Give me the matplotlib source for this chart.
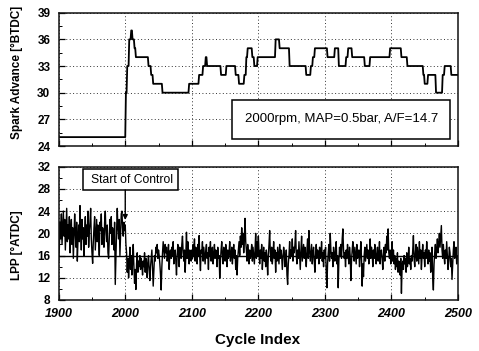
import numpy as np
import matplotlib
matplotlib.use("Agg")
import matplotlib.pyplot as plt
from matplotlib.patches import Rectangle
from matplotlib.font_manager import FontProperties

plt.rcParams['font.family'] = ['Liberation Sans', 'DejaVu Sans']

# ---------------- data ----------------
cycle_start, cycle_end = 1900, 2500

# spark advance: step changes (cycle where value starts, value in deg BTDC)
sa_step_cycles = [1900, 2001, 2003, 2006, 2009, 2011, 2014, 2016, 2035, 2039, 2042, 2056,
                  2096, 2111, 2117, 2121, 2123, 2144, 2152, 2166, 2171, 2179, 2182, 2184,
                  2191, 2194, 2199, 2226, 2232, 2247, 2272, 2279, 2282, 2285, 2304, 2315,
                  2321, 2332, 2335, 2341, 2360, 2368, 2398, 2415, 2424, 2448, 2450, 2455,
                  2467, 2477, 2480, 2490]
sa_step_values = [25, 30, 33, 36, 37, 36, 35, 34, 33, 32, 31, 30,
                  31, 32, 33, 34, 33, 32, 33, 32, 31, 32, 34, 35,
                  34, 33, 34, 36, 35, 33, 32, 33, 34, 35, 34, 35,
                  33, 34, 35, 34, 33, 34, 35, 34, 33, 32, 31, 32,
                  30, 32, 33, 32]

lpp_1900 = [15.0, 17.5, 22.0, 19.0, 23.5, 18.0, 21.0, 24.0, 19.5, 22.5,
            17.0, 20.5, 24.5, 18.5, 21.5, 19.0, 23.0, 16.5, 20.0, 22.5,
            18.0, 21.0, 15.5, 19.5, 23.5, 20.0, 17.5, 22.0, 15.0, 19.0,
            21.5, 18.5, 25.0, 20.5, 17.0, 22.5, 19.0, 21.0, 16.0, 20.0,
            23.0, 18.0, 21.5, 19.5, 24.0, 17.5, 20.5, 22.0, 24.5, 19.0,
            16.5, 14.6, 18.5, 21.0, 23.0, 17.0, 20.0, 22.5, 18.5, 21.5,
            19.0, 16.0, 22.0, 20.5, 23.5, 18.0, 21.0, 19.5, 17.5, 22.0,
            24.0, 20.0, 18.5, 21.5, 16.5, 15.5, 19.0, 22.5, 20.0, 23.0,
            18.0, 21.0, 19.5, 17.0, 22.0, 10.8, 16.0, 20.5, 24.5, 21.0,
            19.0, 22.5, 16.0, 20.0, 23.5, 24.0, 21.0, 19.5, 22.0, 20.5]
lpp_2000 = [21.5, 18.0, 16.5, 13.0, 15.5, 12.0, 14.5, 17.5, 13.5, 16.0,
            12.5, 15.0, 18.0, 14.0, 11.0, 13.5, 9.9, 14.5, 16.5, 13.0,
            15.0, 14.0, 16.0, 13.5, 15.5, 14.5, 12.5, 15.0, 14.0, 16.5,
            13.0, 15.5, 14.5, 12.0, 15.0, 16.0, 13.5, 11.5, 14.0, 15.5,
            17.0, 14.0, 10.5, 13.5, 16.0, 15.0, 17.5, 16.5, 18.0, 15.5,
            17.0, 16.0, 14.5, 12.5, 9.8, 14.0, 16.5, 18.5, 17.0, 15.5,
            18.0, 16.5, 17.5, 15.0, 16.0, 18.0, 13.5, 16.5, 17.0, 15.5,
            17.5, 16.0, 18.5, 14.5, 16.5, 17.0, 15.0, 12.5, 16.0, 18.0,
            16.5, 14.0, 17.5, 16.0, 15.5, 18.0, 19.5, 16.5, 15.0, 17.0,
            13.0, 16.0, 20.2, 15.5, 18.5, 16.0, 14.5, 17.0, 16.5, 15.0]
lpp_2100 = [17.0, 15.5, 18.0, 16.0, 19.0, 15.0, 17.5, 16.5, 14.5, 18.0,
            16.0, 19.6, 15.5, 13.3, 17.0, 16.5, 18.5, 15.0, 17.5, 16.0,
            14.5, 17.0, 18.0, 15.5, 16.5, 13.5, 17.5, 16.0, 18.5, 15.0,
            16.5, 17.5, 14.5, 16.0, 18.0, 15.5, 17.0, 16.5, 14.0, 17.5,
            15.5, 16.0, 11.9, 15.0, 17.0, 18.5, 16.0, 14.5, 17.5, 16.5,
            15.0, 18.0, 16.5, 14.0, 17.0, 15.5, 16.5, 18.5, 15.0, 16.0,
            17.5, 14.5, 16.5, 18.0, 15.5, 17.0, 13.5, 16.0, 12.5, 15.5,
            17.0, 18.5, 16.0, 19.5, 17.5, 21.0, 18.0, 20.0, 16.5, 19.0,
            22.7, 18.5, 17.0, 15.0, 18.0, 16.5, 14.5, 17.0, 15.5, 16.5,
            18.0, 15.0, 17.5, 16.0, 14.5, 17.0, 20.0, 15.5, 18.5, 16.0]
lpp_2200 = [19.5, 16.5, 14.5, 17.0, 15.5, 18.0, 13.5, 16.0, 17.5, 15.0,
            16.5, 14.0, 17.0, 15.5, 12.5, 16.0, 18.0, 20.5, 16.5, 15.0,
            17.5, 14.5, 16.0, 18.5, 15.5, 17.0, 13.0, 16.5, 15.0, 17.5,
            16.0, 14.5, 18.0, 15.5, 17.0, 16.0, 13.5, 15.5, 17.5, 16.5,
            14.0, 15.0, 17.0, 12.5, 10.8, 14.5, 16.0, 18.5, 15.5, 17.0,
            16.0, 19.0, 15.0, 17.5, 16.5, 18.0, 20.5, 16.0, 14.5, 17.0,
            15.5, 18.5, 16.0, 13.5, 17.0, 19.5, 15.0, 16.5, 18.0, 15.5,
            17.5, 16.0, 14.0, 17.0, 19.0, 15.5, 20.5, 17.0, 15.0, 16.5,
            18.0, 14.5, 16.5, 17.5, 15.0, 13.0, 16.0, 18.0, 15.5, 17.0,
            16.5, 14.5, 17.5, 15.5, 16.0, 18.5, 15.0, 16.5, 14.0, 17.0]
lpp_2300 = [15.5, 17.5, 13.0, 10.2, 14.5, 16.5, 18.0, 15.0, 20.0, 17.0,
            15.5, 16.5, 14.0, 17.5, 16.0, 15.0, 17.0, 18.5, 14.5, 16.0,
            10.2, 15.0, 17.5, 16.0, 18.0, 15.5, 19.0, 20.8, 17.0, 15.5,
            16.5, 14.0, 17.0, 15.5, 18.0, 16.0, 14.5, 17.5, 16.0, 11.5,
            15.0, 17.0, 18.5, 16.5, 15.0, 17.5, 16.0, 14.5, 18.0, 15.5,
            16.5, 17.0, 14.0, 16.0, 18.5, 15.5, 10.5, 14.5, 12.2, 16.0,
            17.5, 15.0, 16.5, 18.0, 15.5, 17.0, 14.5, 16.0, 19.0, 15.5,
            17.5, 16.5, 14.0, 17.0, 15.5, 18.0, 16.0, 14.5, 16.5, 17.5,
            15.0, 16.0, 18.5, 14.5, 16.5, 17.0, 15.5, 13.5, 16.0, 17.5,
            15.0, 18.0, 16.5, 19.5, 17.0, 20.8, 16.5, 15.5, 17.0, 14.5]
lpp_2400 = [16.0, 18.5, 15.0, 17.0, 14.5, 16.0, 13.5, 15.5, 14.0, 16.5,
            13.0, 15.0, 14.5, 12.5, 15.5, 9.2, 14.0, 15.0, 13.5, 16.0,
            14.5, 15.5, 13.0, 16.5, 14.0, 15.0, 17.5, 14.5, 15.5, 13.5,
            16.0, 15.0, 17.0, 19.6, 15.5, 14.0, 16.5, 18.0, 15.0, 17.5,
            16.0, 14.5, 18.5, 15.5, 17.0, 13.5, 16.0, 18.0, 15.5, 16.5,
            14.0, 17.0, 15.5, 18.5, 16.0, 14.5, 17.0, 15.0, 16.5, 13.0,
            15.5, 17.5, 12.0, 9.8, 14.5, 16.5, 18.0, 15.5, 17.0, 19.0,
            16.5, 18.0, 20.0, 17.5, 19.5, 21.4, 17.0, 15.5, 18.0, 16.0,
            14.5, 17.0, 15.5, 18.5, 16.0, 13.5, 15.0, 17.5, 16.5, 14.0,
            15.5, 11.7, 14.5, 17.0, 18.5, 15.5, 16.0, 17.5, 14.5, 16.0,
            15.5]
lpp_target = 16
control_start = 2000

info_text = "2000rpm, MAP=0.5bar, A/F=14.7"
ann_text = "Start of Control"

# ---------------- build series ----------------
cycles = np.arange(cycle_start, cycle_end + 1)
bounds = sa_step_cycles[1:] + [cycle_end + 1]
sa = np.repeat(sa_step_values, np.diff([sa_step_cycles[0]] + bounds))
lpp = np.array(lpp_1900 + lpp_2000 + lpp_2100 + lpp_2200 + lpp_2300 + lpp_2400)

# ---------------- figure ----------------
W, H = 479, 351
fig = plt.figure(figsize=(W / 100, H / 100), dpi=100)

def frac_rect(x0, x1, ytop, ybot):
    return [x0 / W, 1 - ybot / H, (x1 - x0) / W, (ybot - ytop) / H]

ax1 = fig.add_axes(frac_rect(58.7, 458, 12.7, 146))
ax2 = fig.add_axes(frac_rect(58.7, 458, 166.7, 300))

ytick_fp = FontProperties(family='Liberation Sans', weight='bold', size=8.5)
xtick_fp = FontProperties(family='Liberation Sans', weight='bold', style='italic', size=9)

for ax in (ax1, ax2):
    ax.set_xlim(cycle_start, cycle_end)
    ax.set_xticks(np.arange(1900, 2501, 100))
    ax.set_xticks(np.arange(1950, 2500, 100), minor=True)
    ax.tick_params(which='both', direction='in', top=False, right=False)
    ax.tick_params(which='major', length=4, width=0.9)
    ax.tick_params(which='minor', length=2, width=0.7)
    ax.grid(True, which='major', linestyle=(0, (1, 2.5)), color='#333333', linewidth=0.7)
    for s in ax.spines.values():
        s.set_linewidth(1.1)
        s.set_color('#111111')

# top panel
ax1.plot(cycles, sa, color='black', linewidth=1.3)
ax1.set_ylim(24, 39)
ax1.set_yticks(np.arange(24, 40, 3))
ax1.set_yticks(np.arange(25.5, 39, 3), minor=True)
ax1.set_xticklabels([])
ax1.tick_params(axis='y', pad=6)
for lab in ax1.get_yticklabels():
    lab.set_fontproperties(ytick_fp)

ax1.add_patch(Rectangle((0.433, 0.050), 0.547, 0.295, transform=ax1.transAxes,
                        facecolor='white', edgecolor='black', linewidth=1.1, zorder=5))
ax1.text(0.7077, 0.2025, info_text, transform=ax1.transAxes, ha='center', va='center',
         fontsize=9.5, family='Liberation Sans', zorder=6)

# bottom panel
ax2.plot(cycles, lpp, color='black', linewidth=1.0)
ax2.axhline(lpp_target, color='black', linewidth=1.0, zorder=3)
ax2.set_ylim(8, 32)
ax2.set_yticks(np.arange(8, 33, 4))
ax2.set_yticks(np.arange(10, 32, 4), minor=True)
ax2.tick_params(axis='y', pad=6)
ax2.tick_params(axis='x', pad=6)
for lab in ax2.get_yticklabels():
    lab.set_fontproperties(ytick_fp)
for lab in ax2.get_xticklabels():
    lab.set_fontproperties(xtick_fp)

ax2.add_patch(Rectangle((0.0616, 0.825), 0.238, 0.158, transform=ax2.transAxes,
                        facecolor='white', edgecolor='black', linewidth=1.1, zorder=5,
                        clip_on=False))
ax2.text(0.1848, 0.900, ann_text, transform=ax2.transAxes, ha='center', va='center',
         fontsize=8.7, family='Liberation Sans', zorder=6)
ax2.annotate('', xy=(control_start, 22.4), xytext=(control_start, 27.8),
             arrowprops=dict(arrowstyle='-|>', color='black', lw=1.0,
                             mutation_scale=7, shrinkA=0, shrinkB=0), zorder=6)

# labels
fig.text(17 / W, 1 - 72 / H, "Spark Advance [°BTDC]", rotation=90, ha='center', va='center',
         fontsize=8.5, weight='bold', family='Liberation Sans')
fig.text(17 / W, 1 - 245 / H, "LPP [°ATDC]", rotation=90, ha='center', va='center',
         fontsize=8.5, weight='bold', family='Liberation Sans')
fig.text(258 / W, 1 - 340 / H, "Cycle Index", ha='center', va='center',
         fontsize=11, weight='bold', family='Liberation Sans')

fig.savefig("out.png", dpi=100)
